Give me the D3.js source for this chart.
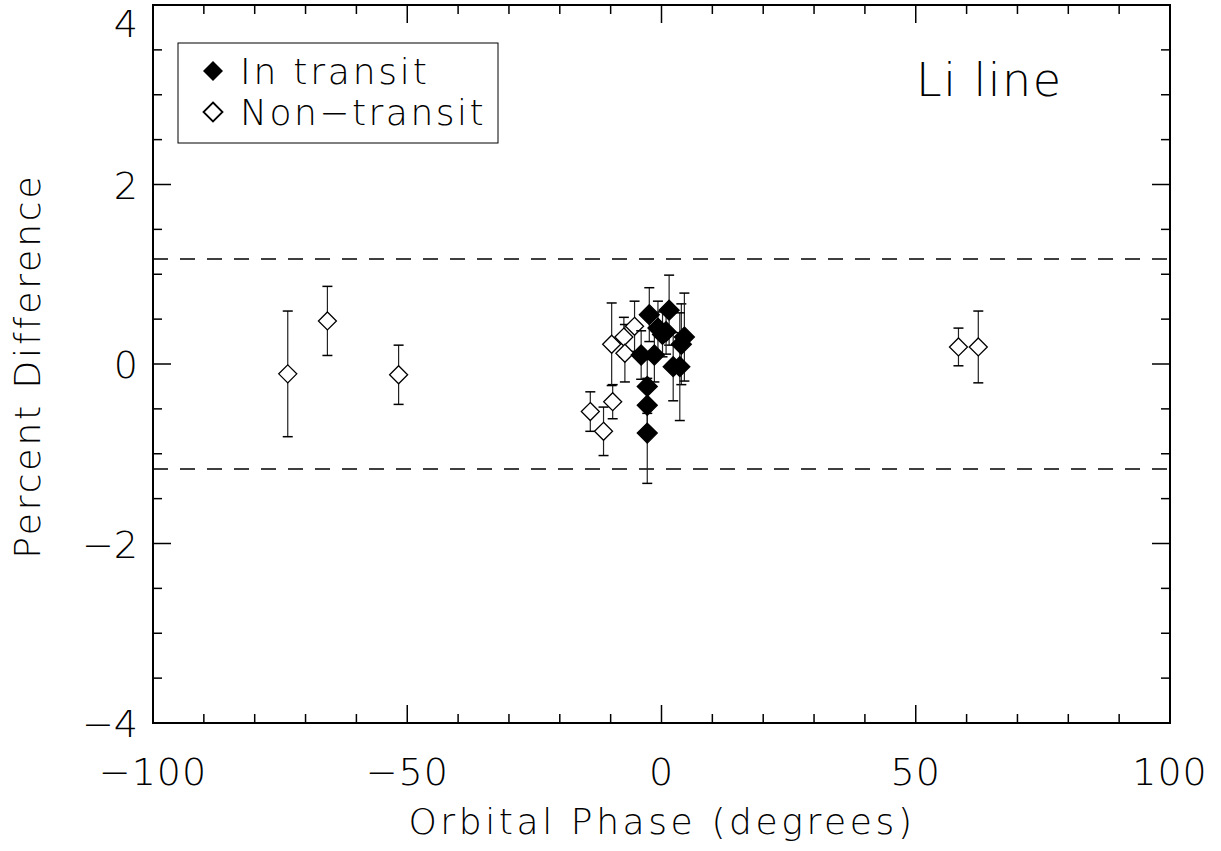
<!DOCTYPE html>
<html><head><meta charset="utf-8">
<script src="https://cdn.jsdelivr.net/npm/d3@7"></script>
<style>
html,body{margin:0;padding:0;background:#fff;}
text{font-family:"DejaVu Sans ExtraLight","DejaVu Sans",sans-serif;font-weight:200;fill:#000;}
</style></head>
<body>
<svg id="chart" width="1221" height="851"></svg>
<script>
// Non-transit observations: phase (deg), percent difference, error
const nonPhase = [-73.5, -65.7, -51.7, -14.0, -11.4, -9.6, -9.8, -7.4, -7.2, -5.3, 58.4, 62.3];
const nonValue = [-0.11, 0.48, -0.12, -0.53, -0.75, -0.42, 0.22, 0.30, 0.12, 0.42, 0.19, 0.19];
const nonError = [0.70, 0.385, 0.33, 0.22, 0.27, 0.19, 0.46, 0.22, 0.32, 0.28, 0.21, 0.40];
// In-transit observations
const inPhase = [-2.4, 1.5, -0.7, 0.9, 0.2, 3.9, 4.5, -4.0, -1.4, 2.3, 3.6, -2.8, -2.8, -2.8];
const inValue = [0.55, 0.60, 0.40, 0.36, 0.33, 0.22, 0.30, 0.10, 0.10, -0.03, -0.03, -0.25, -0.46, -0.77];
const inError = [0.30, 0.39, 0.30, 0.25, 0.25, 0.45, 0.49, 0.27, 0.30, 0.38, 0.60, 0.30, 0.30, 0.56];
const threshold = [1.17, -1.17];
const xTicks = [-100, -50, 0, 50, 100];
const yTicks = [-4, -2, 0, 2, 4];
const xTickLabels = ["\u2212100", "\u221250", "0", "50", "100"];
const yTickLabels = ["\u22124", "\u22122", "0", "2", "4"];

const svg = d3.select("#chart");
const L = 153, R = 1170, T = 5, B = 723;
const x = d3.scaleLinear().domain([-100, 100]).range([L, R]);
const y = d3.scaleLinear().domain([-4, 4]).range([B, T]);

// frame
svg.append("rect").attr("x", L).attr("y", T).attr("width", R - L).attr("height", B - T)
  .attr("fill", "none").attr("stroke", "#000").attr("stroke-width", 2);

// ticks
const xMinor = d3.range(-100, 101, 10);
const yMinor = d3.range(-4, 4.01, 0.5);
const tg = svg.append("g").attr("stroke", "#000").attr("stroke-width", 1.5);
xMinor.forEach(v => {
  const len = xTicks.includes(v) ? 18 : 9;
  tg.append("line").attr("x1", x(v)).attr("x2", x(v)).attr("y1", B).attr("y2", B - len);
  tg.append("line").attr("x1", x(v)).attr("x2", x(v)).attr("y1", T).attr("y2", T + len);
});
yMinor.forEach(v => {
  const len = yTicks.includes(Math.round(v*100)/100) ? 18 : 9;
  tg.append("line").attr("y1", y(v)).attr("y2", y(v)).attr("x1", L).attr("x2", L + len);
  tg.append("line").attr("y1", y(v)).attr("y2", y(v)).attr("x1", R).attr("x2", R - len);
});

// tick labels
xTicks.forEach((v, i) => {
  svg.append("text").attr("x", x(v)).attr("y", 785).attr("text-anchor", "middle")
    .attr("font-size", 38).attr("letter-spacing", 1).text(xTickLabels[i]);
});
yTicks.forEach((v, i) => {
  svg.append("text").attr("x", 138).attr("y", Math.max(y(v) + 14, 37)).attr("text-anchor", "end")
    .attr("font-size", 38).text(yTickLabels[i]);
});

// axis titles
svg.append("text").attr("x", 662).attr("y", 834).attr("text-anchor", "middle")
  .attr("font-size", 36).attr("letter-spacing", 3.6).text("Orbital Phase (degrees)");
svg.append("text").attr("transform", "translate(40,366) rotate(-90)").attr("text-anchor", "middle")
  .attr("font-size", 36).attr("letter-spacing", 2.9).text("Percent Difference");

// dashed threshold lines
threshold.forEach(v => {
  svg.append("line").attr("x1", L).attr("x2", R).attr("y1", y(v)).attr("y2", y(v))
    .attr("stroke", "#000").attr("stroke-width", 1.5).attr("stroke-dasharray", "15,12");
});

const diamond = (cx, cy, r) => `M${cx},${cy - r}L${cx + r},${cy}L${cx},${cy + r}L${cx - r},${cy}Z`;

function drawSeries(phase, value, err, filled) {
  const g = svg.append("g");
  phase.forEach((p, i) => {
    const cx = x(p), y1 = y(value[i] + err[i]), y2 = y(value[i] - err[i]);
    g.append("line").attr("x1", cx).attr("x2", cx).attr("y1", y1).attr("y2", y2)
      .attr("stroke", "#222").attr("stroke-width", 1.2);
    [y1, y2].forEach(yy => g.append("line").attr("x1", cx - 5).attr("x2", cx + 5)
      .attr("y1", yy).attr("y2", yy).attr("stroke", "#000").attr("stroke-width", 1.5));
  });
  phase.forEach((p, i) => {
    g.append("path").attr("d", diamond(x(p), y(value[i]), filled ? 10 : 9))
      .attr("fill", filled ? "#000" : "#fff").attr("stroke", "#000").attr("stroke-width", 1.3);
  });
}
drawSeries(nonPhase, nonValue, nonError, false);
drawSeries(inPhase, inValue, inError, true);

// legend
svg.append("rect").attr("x", 178).attr("y", 43).attr("width", 320).attr("height", 100)
  .attr("fill", "#fff").attr("stroke", "#000").attr("stroke-width", 1);
svg.append("path").attr("d", diamond(213, 71, 10)).attr("fill", "#000");
svg.append("path").attr("d", diamond(213, 112, 9.5)).attr("fill", "none").attr("stroke", "#000").attr("stroke-width", 1.8);
svg.append("text").attr("x", 240).attr("y", 84).attr("font-size", 36).attr("letter-spacing", 2.8).text("In transit");
svg.append("text").attr("x", 240).attr("y", 125).attr("font-size", 36).attr("letter-spacing", 2.5).text("Non\u2212transit");

svg.append("text").attr("x", 916).attr("y", 96).attr("font-size", 46).attr("letter-spacing", 1.5).text("Li line");
</script>
</body></html>
